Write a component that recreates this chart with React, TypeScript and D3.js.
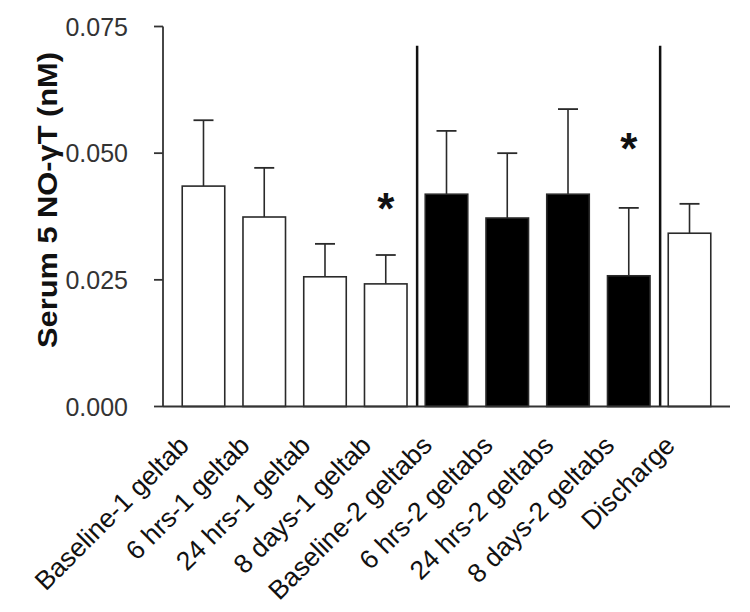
import React from "react";
import * as d3 from "d3";

const categories = [
  "Baseline-1 geltab",
  "6 hrs-1 geltab",
  "24 hrs-1 geltab",
  "8 days-1 geltab",
  "Baseline-2 geltabs",
  "6 hrs-2 geltabs",
  "24 hrs-2 geltabs",
  "8 days-2 geltabs",
  "Discharge",
];
const means = [0.0435, 0.0374, 0.0256, 0.0242, 0.0419, 0.0372, 0.0419, 0.0258, 0.0342];
const errors = [0.013, 0.0097, 0.0065, 0.0057, 0.0125, 0.0128, 0.0168, 0.0134, 0.0058];
const groups = ["one", "one", "one", "one", "two", "two", "two", "two", "one"];
const starValues: (number | null)[] = [null, null, null, 0.0413, null, null, null, 0.053, null];
const yTicks = [0, 0.025, 0.05, 0.075];
const dividerAfter = [3, 7];
const dividerTopValue = 0.0712;
const yLabel = "Serum 5 NO-γT (nM)";

const W = 750;
const H = 612;
const FONT = "'Liberation Sans', Arial, sans-serif";

export default function App() {
  const y = d3.scaleLinear().domain([0, 0.075]).range([406.5, 26.5]);
  const x = d3.scaleBand<string>().domain(categories).range([164, 729]).padding(0.3);
  const bw = x.bandwidth();
  const axisX = 163;
  const axisEnd = 730;
  const fmt = d3.format(".3f");
  const capW = 20;
  const stroke = "#2a2a2a";

  return (
    <svg
      width={W}
      height={H}
      style={{ position: "absolute", left: 0, top: 0, background: "#fff" }}
      fontFamily={FONT}
    >
      <rect width={W} height={H} fill="#fff" />
      {categories.map((c, i) => {
        const x0 = x(c)!;
        const cx = x0 + bw / 2;
        const top = y(means[i]);
        const eTop = y(means[i] + errors[i]);
        return (
          <g key={c}>
            <line x1={cx} x2={cx} y1={top} y2={eTop} stroke={stroke} strokeWidth={1.6} />
            <line x1={cx - capW / 2} x2={cx + capW / 2} y1={eTop} y2={eTop} stroke={stroke} strokeWidth={1.8} />
            <rect
              x={x0}
              y={top}
              width={bw}
              height={y(0) - top}
              fill={groups[i] === "two" ? "#000" : "#fff"}
              stroke={stroke}
              strokeWidth={1.6}
            />
          </g>
        );
      })}
      {categories.map((c, i) => {
        const v = starValues[i];
        if (v == null) return null;
        const cx = x(c)! + bw / 2;
        const fs = 44;
        return (
          <text key={"s" + c} x={cx} y={y(v) + 0.6 * fs} textAnchor="middle" fontSize={fs} fontWeight="bold" fill="#111">
            *
          </text>
        );
      })}
      {dividerAfter.map((i) => {
        const a = x(categories[i])! + bw;
        const b = x(categories[i + 1])!;
        const dx = (a + b) / 2 + 1;
        return (
          <line key={"d" + i} x1={dx} x2={dx} y1={y(dividerTopValue)} y2={y(0)} stroke="#111" strokeWidth={2.5} />
        );
      })}
      <line x1={axisX} x2={axisX} y1={y(0.075)} y2={y(0)} stroke="#333" strokeWidth={1.8} />
      {yTicks.map((t) => (
        <g key={t}>
          <line x1={axisX - 9} x2={axisX} y1={y(t)} y2={y(t)} stroke="#333" strokeWidth={1.8} />
          <text x={128} y={y(t)} dy="0.36em" textAnchor="end" fontSize={25} fill="#333">
            {fmt(t)}
          </text>
        </g>
      ))}
      <line x1={axisX} x2={axisEnd} y1={y(0)} y2={y(0)} stroke="#333" strokeWidth={2} />
      {categories.map((c) => {
        const cx = x(c)! + bw / 2;
        return (
          <text
            key={"l" + c}
            transform={`translate(${cx - 13},${447}) rotate(-45)`}
            textAnchor="end"
            fontSize={26.5}
            fill="#111"
          >
            {c}
          </text>
        );
      })}
      <text
        transform={`translate(${57},${200}) rotate(-90)`}
        textAnchor="middle"
        fontSize={27}
        fontWeight="bold"
        fill="#111"
        textLength={296}
        lengthAdjust="spacingAndGlyphs"
      >
        {yLabel}
      </text>
    </svg>
  );
}
